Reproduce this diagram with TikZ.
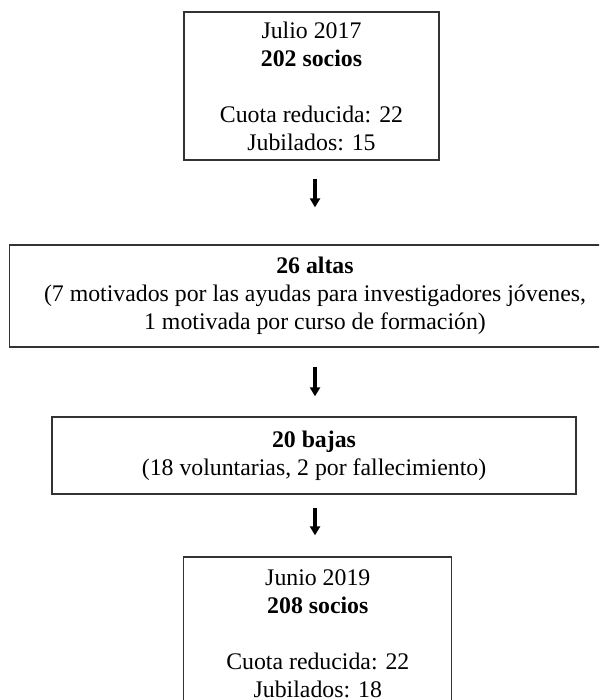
\documentclass[tikz,border=0pt]{standalone}
\usepackage{fontspec}
\setmainfont{Liberation Serif}
\usetikzlibrary{arrows.meta}

\begin{document}
\begin{tikzpicture}[x=1pt,y=-1pt]
\tikzstyle{caja}=
[
	draw=black!80, line width=1.3pt,
	rectangle, align=center, inner sep=0pt,
	font=\fontsize{23.8}{28}\selectfont
]
\tikzstyle{flecha}=
[
	line width=3.6pt,
	-{Triangle[width=10pt,length=9pt]}
]

\clip (0,0) rectangle (599,700);
\fill[white] (0,0) rectangle (599,700);

\node[caja, minimum width=255, minimum height=148] (julio) at (311.5,86)
	{Julio 2017\\ \textbf{202 socios}\\[28pt] Cuota reducida: 22\\ Jubilados: 15};
\node[caja, minimum width=611, minimum height=102] (altas) at (315,296)
	{\textbf{26 altas}\\ (7 motivados por las ayudas para investigadores jóvenes,\\ 1 motivada por curso de formación)};
\node[caja, minimum width=524, minimum height=77] (bajas) at (314,455.5)
	{\textbf{20 bajas}\\ (18 voluntarias, 2 por fallecimiento)};
\node[caja, minimum width=268, minimum height=154] (junio) at (317.8,634)
	{Junio 2019\\ \textbf{208 socios}\\[28pt] Cuota reducida: 22\\ Jubilados: 18};

\draw[flecha, shorten <=18pt, shorten >=37pt] (julio.south -| altas.north) -- (altas.north);
\draw[flecha, shorten <=19pt, shorten >=20pt] (altas.south) -- (bajas.north -| altas.south);
\draw[flecha, shorten <=13pt, shorten >=21pt] (bajas.south -| altas.south) -- (junio.north -| altas.south);
\end{tikzpicture}
\end{document}
